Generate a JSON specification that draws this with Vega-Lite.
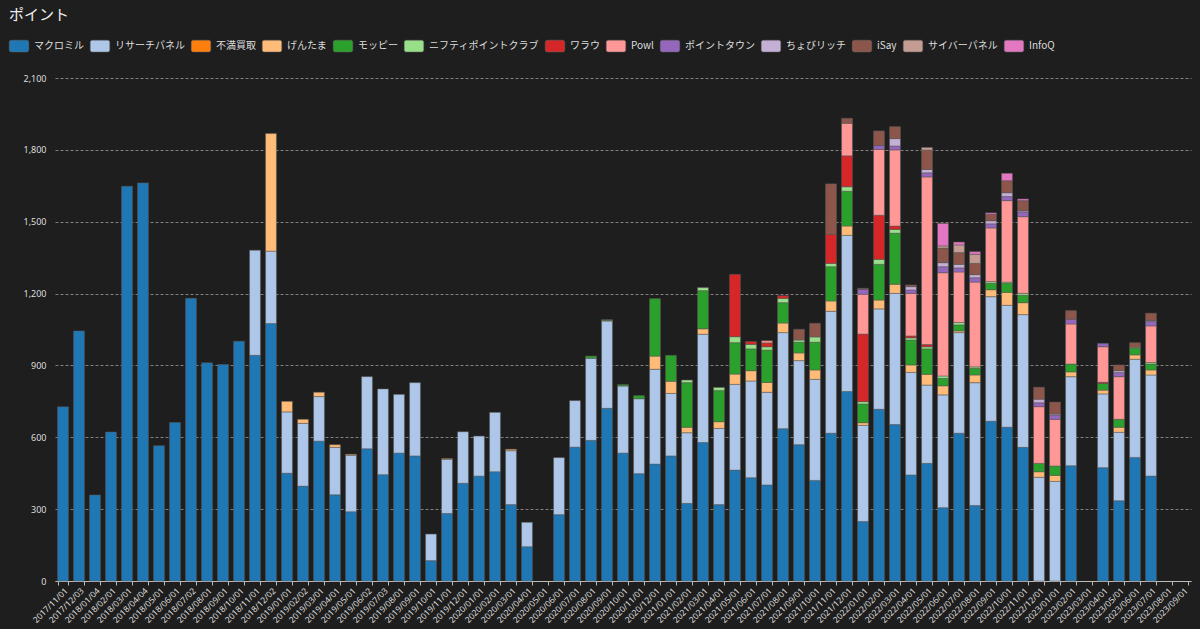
{
  "$schema": "https://vega.github.io/schema/vega-lite/v6.json",
  "autosize": {"type": "none"},
  "width": 1136,
  "height": 503,
  "padding": {"left": 55, "top": 78, "right": 9, "bottom": 48},
  "background": "#1e1e1e",
  "title": {
    "text": "ポイント",
    "anchor": "start",
    "frame": "group",
    "dx": -46,
    "offset": 13,
    "font": "Noto Sans CJK JP",
    "fontSize": 15,
    "fontWeight": "normal",
    "color": "#eeeeee"
  },
  "data": {
    "values": [
      {"date": "2017/11/01", "マクロミル": 727},
      {"date": "2017/12/03", "マクロミル": 1044},
      {"date": "2018/01/04", "マクロミル": 359},
      {"date": "2018/02/01", "マクロミル": 622},
      {"date": "2018/03/01", "マクロミル": 1648},
      {"date": "2018/04/04", "マクロミル": 1662},
      {"date": "2018/05/01", "マクロミル": 565},
      {"date": "2018/06/01", "マクロミル": 662},
      {"date": "2018/07/02", "マクロミル": 1180},
      {"date": "2018/08/01", "マクロミル": 911},
      {"date": "2018/09/01", "マクロミル": 904},
      {"date": "2018/10/01", "マクロミル": 1001},
      {"date": "2018/11/01", "マクロミル": 942, "リサーチパネル": 439},
      {"date": "2018/12/02", "マクロミル": 1075, "リサーチパネル": 302, "げんたま": 491},
      {"date": "2019/01/01", "マクロミル": 450, "リサーチパネル": 256, "げんたま": 44},
      {"date": "2019/02/02", "マクロミル": 396, "リサーチパネル": 262, "げんたま": 17},
      {"date": "2019/03/01", "マクロミル": 584, "リサーチパネル": 186, "げんたま": 18},
      {"date": "2019/04/01", "マクロミル": 360, "リサーチパネル": 198, "げんたま": 11},
      {"date": "2019/05/01", "マクロミル": 289, "リサーチパネル": 236, "げんたま": 4},
      {"date": "2019/06/02", "マクロミル": 552, "リサーチパネル": 301},
      {"date": "2019/07/03", "マクロミル": 444, "リサーチパネル": 358},
      {"date": "2019/08/01", "マクロミル": 534, "リサーチパネル": 245},
      {"date": "2019/09/01", "マクロミル": 522, "リサーチパネル": 306},
      {"date": "2019/10/01", "マクロミル": 85, "リサーチパネル": 111},
      {"date": "2019/11/01", "マクロミル": 282, "リサーチパネル": 226, "げんたま": 3},
      {"date": "2019/12/01", "マクロミル": 408, "リサーチパネル": 215},
      {"date": "2020/01/01", "マクロミル": 438, "リサーチパネル": 167},
      {"date": "2020/02/01", "マクロミル": 456, "リサーチパネル": 248},
      {"date": "2020/03/01", "マクロミル": 319, "リサーチパネル": 225, "げんたま": 6},
      {"date": "2020/04/01", "マクロミル": 143, "リサーチパネル": 102},
      {"date": "2020/06/01", "マクロミル": 277, "リサーチパネル": 238},
      {"date": "2020/07/01", "マクロミル": 559, "リサーチパネル": 194},
      {"date": "2020/08/01", "マクロミル": 587, "リサーチパネル": 343, "モッピー": 9},
      {"date": "2020/09/01", "マクロミル": 721, "リサーチパネル": 364, "げんたま": 3, "モッピー": 3},
      {"date": "2020/10/01", "マクロミル": 534, "リサーチパネル": 280, "モッピー": 6},
      {"date": "2020/11/01", "マクロミル": 448, "リサーチパネル": 313, "モッピー": 13},
      {"date": "2020/12/01", "マクロミル": 488, "リサーチパネル": 396, "げんたま": 55, "モッピー": 240},
      {"date": "2021/01/01", "マクロミル": 522, "リサーチパネル": 261, "げんたま": 51, "モッピー": 108},
      {"date": "2021/02/01", "マクロミル": 324, "リサーチパネル": 295, "げんたま": 23, "モッピー": 186, "ニフティポイントクラブ": 11},
      {"date": "2021/03/01", "マクロミル": 578, "リサーチパネル": 452, "げんたま": 23, "モッピー": 159, "ニフティポイントクラブ": 13},
      {"date": "2021/04/01", "マクロミル": 319, "リサーチパネル": 318, "げんたま": 28, "モッピー": 130, "ニフティポイントクラブ": 13},
      {"date": "2021/05/01", "マクロミル": 463, "リサーチパネル": 358, "げんたま": 43, "モッピー": 131, "ニフティポイントクラブ": 25, "ワラウ": 260},
      {"date": "2021/06/01", "マクロミル": 431, "リサーチパネル": 404, "げんたま": 43, "モッピー": 91, "ニフティポイントクラブ": 19, "ワラウ": 12},
      {"date": "2021/07/01", "マクロミル": 401, "リサーチパネル": 387, "げんたま": 41, "モッピー": 135, "ニフティポイントクラブ": 14, "ワラウ": 16, "Powl": 9},
      {"date": "2021/08/01", "マクロミル": 636, "リサーチパネル": 401, "げんたま": 40, "モッピー": 85, "ニフティポイントクラブ": 18, "ワラウ": 11},
      {"date": "2021/09/01", "マクロミル": 569, "リサーチパネル": 351, "げんたま": 32, "モッピー": 45, "ニフティポイントクラブ": 9, "iSay": 45},
      {"date": "2021/10/01", "マクロミル": 420, "リサーチパネル": 422, "げんたま": 39, "モッピー": 116, "ニフティポイントクラブ": 22, "iSay": 57},
      {"date": "2021/11/01", "マクロミル": 617, "リサーチパネル": 509, "げんたま": 43, "モッピー": 143, "ニフティポイントクラブ": 14, "ワラウ": 121, "iSay": 211},
      {"date": "2021/12/01", "マクロミル": 791, "リサーチパネル": 652, "げんたま": 39, "モッピー": 145, "ニフティポイントクラブ": 19, "ワラウ": 129, "Powl": 136, "iSay": 21},
      {"date": "2022/01/01", "マクロミル": 248, "リサーチパネル": 402, "げんたま": 11, "モッピー": 78, "ニフティポイントクラブ": 10, "ワラウ": 282, "Powl": 166, "ポイントタウン": 21, "iSay": 4},
      {"date": "2022/02/01", "マクロミル": 717, "リサーチパネル": 419, "げんたま": 37, "モッピー": 149, "ニフティポイントクラブ": 21, "ワラウ": 184, "Powl": 275, "ポイントタウン": 16, "iSay": 61},
      {"date": "2022/03/01", "マクロミル": 653, "リサーチパネル": 548, "げんたま": 38, "モッピー": 213, "ニフティポイントクラブ": 16, "ワラウ": 14, "Powl": 318, "ポイントタウン": 16, "ちょびリッチ": 31, "iSay": 50},
      {"date": "2022/04/01", "マクロミル": 443, "リサーチパネル": 428, "げんたま": 31, "モッピー": 104, "ニフティポイントクラブ": 9, "ワラウ": 8, "Powl": 178, "ポイントタウン": 14, "ちょびリッチ": 14, "iSay": 7},
      {"date": "2022/05/01", "マクロミル": 491, "リサーチパネル": 327, "げんたま": 45, "モッピー": 106, "ニフティポイントクラブ": 9, "ワラウ": 9, "Powl": 700, "ポイントタウン": 17, "ちょびリッチ": 14, "iSay": 81, "サイバーパネル": 11},
      {"date": "2022/06/01", "マクロミル": 306, "リサーチパネル": 471, "げんたま": 38, "モッピー": 31, "ニフティポイントクラブ": 10, "Powl": 431, "ポイントタウン": 25, "ちょびリッチ": 17, "iSay": 61, "サイバーパネル": 9, "InfoQ": 94},
      {"date": "2022/07/01", "マクロミル": 617, "リサーチパネル": 420, "げんたま": 7, "モッピー": 25, "ニフティポイントクラブ": 10, "Powl": 211, "ポイントタウン": 17, "ちょびリッチ": 15, "iSay": 49, "サイバーパネル": 32, "InfoQ": 12},
      {"date": "2022/08/01", "マクロミル": 315, "リサーチパネル": 513, "げんたま": 32, "モッピー": 28, "ニフティポイントクラブ": 6, "Powl": 354, "ポイントタウン": 18, "ちょびリッチ": 13, "iSay": 47, "サイバーパネル": 38, "InfoQ": 11},
      {"date": "2022/09/01", "マクロミル": 667, "リサーチパネル": 520, "げんたま": 29, "モッピー": 27, "ニフティポイントクラブ": 7, "Powl": 224, "ポイントタウン": 17, "ちょびリッチ": 13, "iSay": 27, "InfoQ": 6},
      {"date": "2022/10/01", "マクロミル": 642, "リサーチパネル": 509, "げんたま": 54, "モッピー": 38, "ニフティポイントクラブ": 5, "Powl": 340, "ポイントタウン": 17, "ちょびリッチ": 16, "iSay": 50, "InfoQ": 31},
      {"date": "2022/11/01", "マクロミル": 558, "リサーチパネル": 554, "げんたま": 50, "モッピー": 31, "ニフティポイントクラブ": 8, "Powl": 320, "ポイントタウン": 20, "ちょびリッチ": 5, "iSay": 42, "InfoQ": 7},
      {"date": "2022/12/01", "リサーチパネル": 433, "げんたま": 23, "モッピー": 35, "Powl": 237, "ポイントタウン": 16, "ちょびリッチ": 15, "iSay": 50},
      {"date": "2023/01/01", "リサーチパネル": 416, "げんたま": 25, "モッピー": 39, "Powl": 195, "ポイントタウン": 18, "ちょびリッチ": 4, "iSay": 50},
      {"date": "2023/02/01", "マクロミル": 481, "リサーチパネル": 372, "げんたま": 20, "モッピー": 33, "Powl": 167, "ポイントタウン": 20, "iSay": 36},
      {"date": "2023/04/01", "マクロミル": 473, "リサーチパネル": 308, "げんたま": 16, "モッピー": 28, "ワラウ": 5, "Powl": 148, "ポイントタウン": 14},
      {"date": "2023/05/01", "マクロミル": 335, "リサーチパネル": 286, "げんたま": 21, "モッピー": 33, "Powl": 178, "ポイントタウン": 17, "ちょびリッチ": 8, "iSay": 24},
      {"date": "2023/06/01", "マクロミル": 516, "リサーチパネル": 410, "げんたま": 18, "モッピー": 28, "ニフティポイントクラブ": 4, "iSay": 19},
      {"date": "2023/07/01", "マクロミル": 438, "リサーチパネル": 422, "げんたま": 21, "モッピー": 25, "ニフティポイントクラブ": 6, "Powl": 153, "ポイントタウン": 18, "ちょびリッチ": 4, "iSay": 31}
    ]
  },
  "transform": [
    {"fold": ["マクロミル", "リサーチパネル", "不満買取", "げんたま", "モッピー", "ニフティポイントクラブ", "ワラウ", "Powl", "ポイントタウン", "ちょびリッチ", "iSay", "サイバーパネル", "InfoQ"], "as": ["source", "value"]},
    {"filter": "datum.value > 0"},
    {"calculate": "indexof(['マクロミル', 'リサーチパネル', '不満買取', 'げんたま', 'モッピー', 'ニフティポイントクラブ', 'ワラウ', 'Powl', 'ポイントタウン', 'ちょびリッチ', 'iSay', 'サイバーパネル', 'InfoQ'], datum.source)", "as": "stackRank"}
  ],
  "mark": {"type": "bar", "stroke": "#5a5a5a", "strokeWidth": 0.5},
  "encoding": {
    "x": {
      "field": "date",
      "type": "ordinal",
      "title": null,
      "scale": {
        "domain": ["2017/11/01", "2017/12/03", "2018/01/04", "2018/02/01", "2018/03/01", "2018/04/04", "2018/05/01", "2018/06/01", "2018/07/02", "2018/08/01", "2018/09/01", "2018/10/01", "2018/11/01", "2018/12/02", "2019/01/01", "2019/02/02", "2019/03/01", "2019/04/01", "2019/05/01", "2019/06/02", "2019/07/03", "2019/08/01", "2019/09/01", "2019/10/01", "2019/11/01", "2019/12/01", "2020/01/01", "2020/02/01", "2020/03/01", "2020/04/01", "2020/05/01", "2020/06/01", "2020/07/01", "2020/08/01", "2020/09/01", "2020/10/01", "2020/11/01", "2020/12/01", "2021/01/01", "2021/02/01", "2021/03/01", "2021/04/01", "2021/05/01", "2021/06/01", "2021/07/01", "2021/08/01", "2021/09/01", "2021/10/01", "2021/11/01", "2021/12/01", "2022/01/01", "2022/02/01", "2022/03/01", "2022/04/01", "2022/05/01", "2022/06/01", "2022/07/01", "2022/08/01", "2022/09/01", "2022/10/01", "2022/11/01", "2022/12/01", "2023/01/01", "2023/02/01", "2023/03/01", "2023/04/01", "2023/05/01", "2023/06/01", "2023/07/01", "2023/08/01", "2023/09/01"],
        "paddingInner": 0.32,
        "paddingOuter": 0.16
      },
      "axis": {
        "labelAngle": -45,
        "labelFontSize": 8.5,
        "labelFont": "Noto Sans",
        "labelColor": "#dddddd",
        "labelPadding": 1,
        "tickBand": "extent",
        "tickColor": "#bbbbbb",
        "tickSize": 4,
        "domainColor": "#bbbbbb",
        "grid": false
      }
    },
    "y": {
      "field": "value",
      "type": "quantitative",
      "title": null,
      "scale": {"domain": [0, 2100], "nice": false},
      "axis": {
        "values": [0, 300, 600, 900, 1200, 1500, 1800, 2100],
        "format": ",d",
        "ticks": false,
        "domain": false,
        "labelPadding": 9,
        "labelFontSize": 9,
        "labelFont": "Noto Sans",
        "labelColor": "#dddddd",
        "gridColor": "#808080",
        "gridDash": [3, 2],
        "gridWidth": 1
      }
    },
    "order": {"field": "stackRank", "type": "quantitative", "sort": "ascending"},
    "color": {
      "field": "source",
      "type": "nominal",
      "scale": {
        "domain": ["マクロミル", "リサーチパネル", "不満買取", "げんたま", "モッピー", "ニフティポイントクラブ", "ワラウ", "Powl", "ポイントタウン", "ちょびリッチ", "iSay", "サイバーパネル", "InfoQ"],
        "range": ["#1f77b4", "#aec7e8", "#ff7f0e", "#ffbb78", "#2ca02c", "#98df8a", "#d62728", "#ff9896", "#9467bd", "#c5b0d5", "#8c564b", "#c49c94", "#e377c2"]
      },
      "legend": {
        "title": null,
        "orient": "none",
        "legendX": -46,
        "legendY": -42,
        "direction": "horizontal",
        "columns": 13,
        "columnPadding": 5,
        "symbolType": "M-0.8,-0.6H0.8A0.2,0.2 0 0 1 1,-0.4V0.4A0.2,0.2 0 0 1 0.8,0.6H-0.8A0.2,0.2 0 0 1 -1,0.4V-0.4A0.2,0.2 0 0 1 -0.8,-0.6Z",
        "symbolSize": 380,
        "symbolStrokeColor": "#666666",
        "symbolStrokeWidth": 0.5,
        "labelFont": "Noto Sans CJK JP",
        "labelFontSize": 10,
        "labelColor": "#dddddd",
        "labelOffset": 5
      }
    }
  },
  "config": {
    "view": {"stroke": null}
  }
}
